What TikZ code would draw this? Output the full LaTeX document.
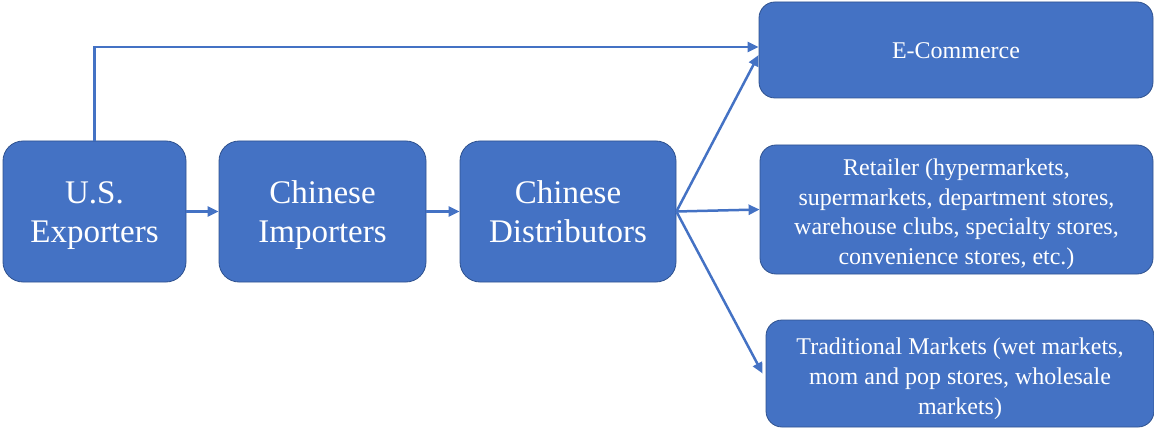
\documentclass[tikz,border=0pt]{standalone}
\usepackage{fontspec}
\setmainfont{Liberation Serif}
\usetikzlibrary{arrows.meta}
\definecolor{boxblue}{HTML}{4472C4}
\definecolor{boxline}{HTML}{2F528F}
\tikzset{stage/.style={draw=boxline, line width=0.8pt, fill=boxblue, text=white,
   rounded corners=20pt, align=center, font=\fontsize{33}{40}\selectfont,
   text height=75pt, text depth=12pt},
 outlet/.style={stage, rounded corners=16pt, font=\fontsize{24}{29.7}\selectfont,
   text depth=9pt, inner ysep=0pt},
 flow/.style={draw=boxblue, line width=2.5pt, -{Triangle[length=11pt,width=10pt]}},
 }

\begin{document}
\begin{tikzpicture}[x=1pt,y=1pt]
        \useasboundingbox (0,0) rectangle (1154,429);
        \node[stage, minimum width=183pt, minimum height=141pt] (exp) at (94.5,217.5) {U.S.\\Exporters};
        \node[stage, minimum width=207pt, minimum height=141pt] (imp) at (322.5,217.5) {Chinese\\Importers};
        \node[stage, minimum width=216pt, minimum height=141pt] (dist) at (568,217.5) {Chinese\\Distributors};
        \node[outlet, minimum width=394pt, minimum height=96pt, text height=26pt] (ecom) at (956,379) {E-Commerce};
        \node[outlet, minimum width=393pt, minimum height=129pt, text height=119pt] (retail) at (956.5,219.5)
            {Retailer (hypermarkets,\\supermarkets, department stores,\\warehouse clubs, specialty stores,\\convenience stores, etc.)};
        \node[outlet, minimum width=388pt, minimum height=107pt, text height=90pt] (trad) at (960,55.5)
            {Traditional Markets (wet markets,\\mom and pop stores, wholesale\\markets)};
        \draw[flow] (exp.east) -- (imp.west);
        \draw[flow] (imp.west -| imp.east) -- (dist.west);
        \draw[flow] (exp.north) |- ([yshift=3pt]ecom.west);
        \draw[flow] (dist.east) -- ([yshift=-5pt]ecom.west);
        \draw[flow] (dist.east) -- (retail.west);
        \draw[flow] (dist.east) -- ([xshift=-3pt]trad.west);
    \end{tikzpicture}
\end{document}
